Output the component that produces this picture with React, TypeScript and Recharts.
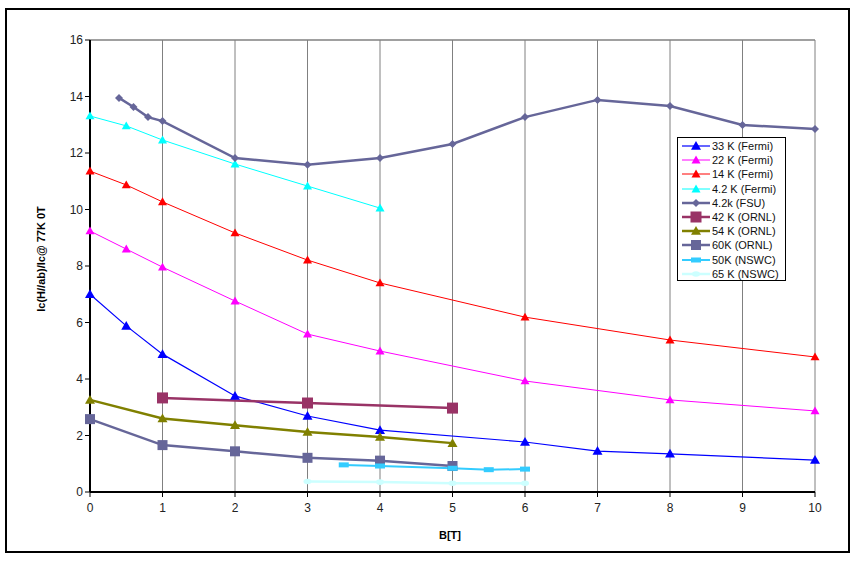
import React from "react";
import { CartesianGrid, Legend, Line, LineChart, ReferenceLine, XAxis, YAxis } from "recharts";

const X_TICKS = [0, 1, 2, 3, 4, 5, 6, 7, 8, 9, 10];
const Y_TICKS = [0, 2, 4, 6, 8, 10, 12, 14, 16];

// B[T] positions and normalized Ic values
const B_33K = [0, 0.5, 1, 2, 3, 4, 6, 7, 8, 10];
const IC_33K = [7.0, 5.88, 4.88, 3.4, 2.69, 2.19, 1.77, 1.45, 1.35, 1.13];

const B_FERMI = [0, 0.5, 1, 2, 3, 4, 6, 8, 10];
const IC_22K = [9.24, 8.6, 7.96, 6.76, 5.59, 4.99, 3.93, 3.26, 2.87];
const IC_14K = [11.36, 10.87, 10.27, 9.17, 8.21, 7.4, 6.19, 5.38, 4.78];

const B_42FERMI = [0, 0.5, 1, 2, 3, 4];
const IC_42FERMI = [13.31, 12.96, 12.46, 11.61, 10.83, 10.05];

const B_FSU = [0.4, 0.6, 0.8, 1, 2, 3, 4, 5, 6, 7, 8, 9, 10];
const IC_FSU = [13.95, 13.63, 13.27, 13.13, 11.82, 11.58, 11.82, 12.32, 13.27, 13.88, 13.66, 12.99, 12.85];

const B_42ORNL = [1, 3, 5];
const IC_42ORNL = [3.33, 3.15, 2.97];

const B_ORNL = [0, 1, 2, 3, 4, 5];
const IC_54ORNL = [3.26, 2.6, 2.36, 2.12, 1.95, 1.73];
const IC_60ORNL = [2.58, 1.66, 1.44, 1.21, 1.11, 0.92];

const B_50NSWC = [3.5, 4, 5, 5.5, 6];
const IC_50NSWC = [0.96, 0.92, 0.84, 0.79, 0.81];

const B_65NSWC = [3, 4, 5, 6];
const IC_65NSWC = [0.37, 0.35, 0.31, 0.31];

const zip = (bs: number[], vs: number[]) => bs.map((x, i) => ({ x, y: vs[i] }));

type Shape = "triangle" | "diamond" | "square" | "dash" | "smalldiamond";

const SERIES: { name: string; data: { x: number; y: number }[]; color: string; width: number; shape: Shape; size: number }[] = [
  { name: "33 K (Fermi)", data: zip(B_33K, IC_33K), color: "#0000FF", width: 1.2, shape: "triangle", size: 10 },
  { name: "22 K (Fermi)", data: zip(B_FERMI, IC_22K), color: "#FF00FF", width: 1, shape: "triangle", size: 9 },
  { name: "14 K (Fermi)", data: zip(B_FERMI, IC_14K), color: "#FF0000", width: 1, shape: "triangle", size: 9 },
  { name: "4.2 K (Fermi)", data: zip(B_42FERMI, IC_42FERMI), color: "#00FFFF", width: 1, shape: "triangle", size: 9 },
  { name: "4.2k (FSU)", data: zip(B_FSU, IC_FSU), color: "#666699", width: 2.5, shape: "diamond", size: 8 },
  { name: "42 K (ORNL)", data: zip(B_42ORNL, IC_42ORNL), color: "#993366", width: 2.5, shape: "square", size: 11 },
  { name: "54 K (ORNL)", data: zip(B_ORNL, IC_54ORNL), color: "#808000", width: 2.5, shape: "triangle", size: 10 },
  { name: "60K (ORNL)", data: zip(B_ORNL, IC_60ORNL), color: "#666699", width: 2.5, shape: "square", size: 10 },
  { name: "50K (NSWC)", data: zip(B_50NSWC, IC_50NSWC), color: "#33CCFF", width: 2, shape: "dash", size: 10 },
  { name: "65 K (NSWC)", data: zip(B_65NSWC, IC_65NSWC), color: "#CCFFFF", width: 2.5, shape: "smalldiamond", size: 8 },
];

const FONT = "Arial, 'Liberation Sans', sans-serif";

function Marker({ cx, cy, shape, size, color }: { cx: number; cy: number; shape: Shape; size: number; color: string }) {
  const h = size / 2;
  if (shape === "triangle") {
    return <polygon points={`${cx},${cy - h} ${cx + h},${cy + h * 0.75} ${cx - h},${cy + h * 0.75}`} fill={color} />;
  }
  if (shape === "diamond") {
    return <polygon points={`${cx},${cy - h} ${cx + h},${cy} ${cx},${cy + h} ${cx - h},${cy}`} fill={color} />;
  }
  if (shape === "square") {
    return <rect x={cx - h} y={cy - h} width={size} height={size} fill={color} />;
  }
  if (shape === "dash") {
    return <rect x={cx - h} y={cy - 2.5} width={size} height={5} fill={color} />;
  }
  return <ellipse cx={cx} cy={cy} rx={h} ry={2.8} fill={color} />;
}

function LegendBox() {
  return (
    <div
      style={{
        position: "absolute",
        left: 677,
        top: 137,
        width: 109,
        height: 144,
        boxSizing: "border-box",
        border: "1px solid #000",
        background: "#fff",
        fontFamily: FONT,
        fontSize: 11,
        color: "#111",
        paddingTop: 1,
      }}
    >
      {SERIES.map((s) => (
        <div key={s.name} style={{ display: "flex", alignItems: "center", height: 14.2 }}>
          <svg width={30} height={12} style={{ marginLeft: 3 }}>
            <line x1={1} y1={6} x2={29} y2={6} stroke={s.color} strokeWidth={s.width} />
            <Marker cx={15} cy={6} shape={s.shape} size={s.size} color={s.color} />
          </svg>
          <span style={{ marginLeft: 1, whiteSpace: "nowrap" }}>{s.name}</span>
        </div>
      ))}
    </div>
  );
}

export default function App() {
  return (
    <div style={{ position: "absolute", left: 0, top: 0, width: 856, height: 562, background: "#fff" }}>
      <div
        style={{
          position: "absolute",
          left: 5,
          top: 8,
          width: 845,
          height: 545,
          boxSizing: "border-box",
          border: "2px solid #000",
        }}
      />
      <LineChart width={856} height={562} margin={{ top: 40, right: 41, left: 0, bottom: 0 }}>
        <CartesianGrid horizontal={false} stroke="#808080" strokeWidth={1} />
        <ReferenceLine y={16} stroke="#808080" strokeWidth={1.5} />
        <XAxis
          type="number"
          dataKey="x"
          domain={[0, 10]}
          ticks={X_TICKS}
          height={70}
          axisLine={{ stroke: "#000", strokeWidth: 2 }}
          tickLine={{ stroke: "#000" }}
          tickSize={5}
          tickMargin={6}
          tick={{ fill: "#222", fontSize: 12, fontFamily: FONT }}
          label={{
            content: () => (
              <text x={450} y={539} textAnchor="middle" fontFamily={FONT} fontSize={11} fontWeight="bold" fill="#000">
                B[T]
              </text>
            ),
          }}
        />
        <YAxis
          type="number"
          domain={[0, 16]}
          ticks={Y_TICKS}
          width={90}
          axisLine={{ stroke: "#000", strokeWidth: 2 }}
          tickLine={{ stroke: "#000" }}
          tickSize={5}
          tick={{ fill: "#222", fontSize: 12, fontFamily: FONT }}
          label={{
            content: () => (
              <text
                x={41}
                y={259}
                transform="rotate(-90 41 259)"
                textAnchor="middle"
                dominantBaseline="central"
                fontFamily={FONT}
                fontSize={11}
                fontWeight="bold"
                fill="#000"
              >
                Ic(H//ab)/Ic@ 77K 0T
              </text>
            ),
          }}
        />
        {SERIES.map((s) => (
          <Line
            key={s.name}
            name={s.name}
            data={s.data}
            dataKey="y"
            type="linear"
            stroke={s.color}
            strokeWidth={s.width}
            isAnimationActive={false}
            activeDot={false}
            dot={(p: any) => (
              <Marker key={`${s.name}-${p.index}`} cx={p.cx} cy={p.cy} shape={s.shape} size={s.size} color={s.color} />
            )}
          />
        ))}
        <Legend content={() => null} />
      </LineChart>
      <LegendBox />
    </div>
  );
}
